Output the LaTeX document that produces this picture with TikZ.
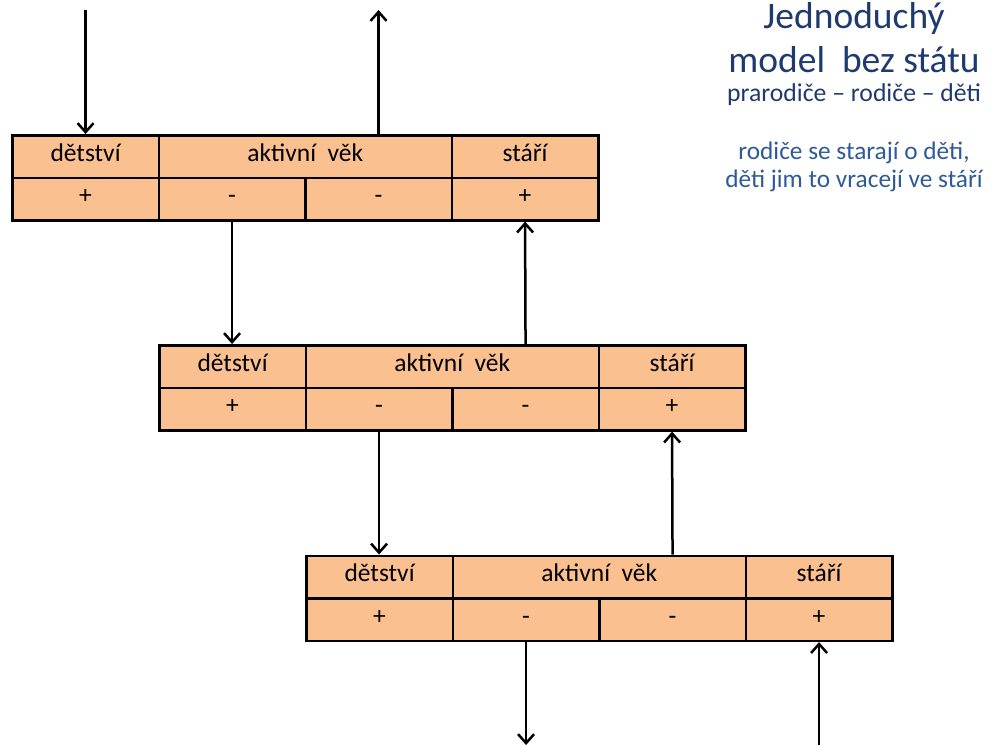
\documentclass[tikz,border=0pt]{standalone}
\usepackage{fontspec}
\setmainfont{Carlito}
\usetikzlibrary{arrows.meta}
\definecolor{cellfill}{HTML}{FAC090}
\definecolor{titleblue}{HTML}{1F3A6E}
\definecolor{textblue}{HTML}{2E5A98}
\tikzset{
  cell/.style={draw=black, fill=cellfill, line width=2.6pt, rectangle, inner sep=0pt,
    anchor=north west, minimum height=42.5pt, text height=12.5pt, text depth=3.5pt,
    font=\fontsize{25.5}{28}\selectfont},
  one/.style={cell, minimum width=146.5pt},
  two/.style={cell, minimum width=293pt},
  conn/.style={line width=2.5pt, -{Straight Barb[length=9pt,width=16pt,line width=2.5pt]}},
  bigtitle/.style={anchor=base, text=titleblue, inner sep=0pt, font=\fontsize{37.5}{44}\selectfont},
  subtitle/.style={anchor=base, text=titleblue, inner sep=0pt, font=\fontsize{25.7}{30}\selectfont},
  note/.style={anchor=base, text=textblue, inner sep=0pt, font=\fontsize{25.3}{30}\selectfont},
}
\newcommand\genblock[3]{%
  \node[one] (#1d) at (#2,#3) {dětství};
  \node[two] (#1a) at ({#2+146.5},#3) {aktivní\ \ věk};
  \node[one] (#1s) at ({#2+439.5},#3) {stáří};
  \node[one] (#1p1) at (#2,{#3+42.5}) {+};
  \node[one] (#1p2) at ({#2+146.5},{#3+42.5}) {-};
  \node[one] (#1p3) at ({#2+293},{#3+42.5}) {-};
  \node[one] (#1p4) at ({#2+439.5},{#3+42.5}) {+};
}
\begin{document}
\begin{tikzpicture}[x=1pt,y=-1pt]
\useasboundingbox (0,0) rectangle (1003,745);
\genblock{a}{11}{134}
\genblock{b}{158}{344}
\genblock{c}{305}{554.5}
% free ends
\coordinate (in1) at (ad.center |- 0,10);
\coordinate (out1) at (ap3.center |- 0,10);
\coordinate (out2) at (cp2.center |- 0,745);
\coordinate (in2) at (cp4.center |- 0,745);
% connectors
\draw[conn] (in1) -- (ad.north);
\draw[conn] (ap3.center |- aa.north) -- (out1);
\draw[conn] (ap2.south) -- (ap2.south |- bd.north);
\draw[conn] (bp3.center |- ba.north) -- (ap4.south);
\draw[conn] (bp2.south) -- (bp2.south |- cd.north);
\draw[conn] (cp3.center |- ca.north) -- (bp4.south);
\draw[conn] (cp2.south) -- (out2);
\draw[conn] (in2) -- (cp4.south);
% texts
\node[bigtitle] (t1) at (854,28.5) {Jednoduchý};
\node[bigtitle] (t2) at (854,72) {model\ \ bez státu};
\node[subtitle] (t3) at (854,101.5) {prarodiče – rodiče – děti};
\node[note] (t4) at (854,159) {rodiče se starají o děti,};
\node[note] (t5) at (854,187) {děti jim to vracejí ve stáří};
\end{tikzpicture}
\end{document}
